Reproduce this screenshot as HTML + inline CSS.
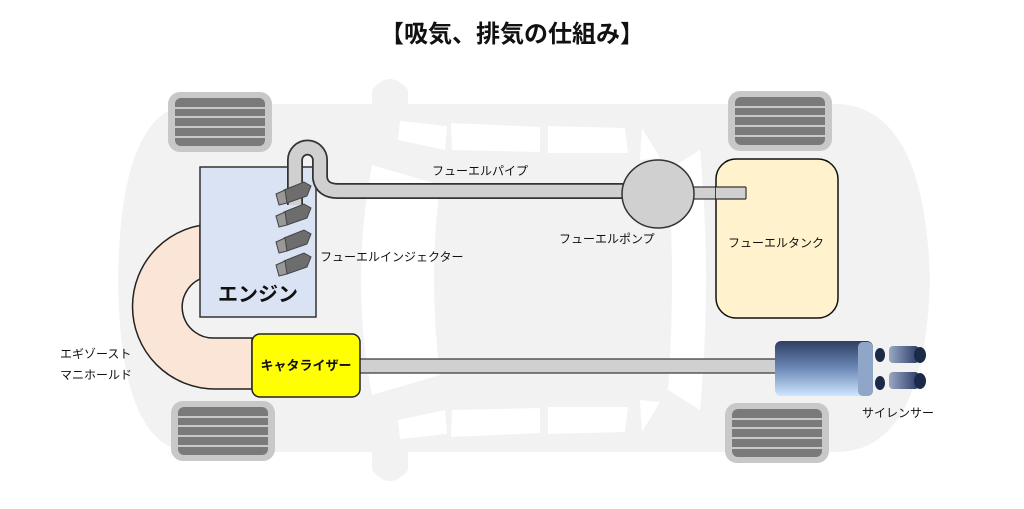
<!DOCTYPE html>
<html><head><meta charset="utf-8"><style>
html,body{margin:0;padding:0;background:#fff;width:1024px;height:509px;overflow:hidden}
svg text{font-family:"Liberation Sans","Noto Sans CJK JP",sans-serif}
</style></head><body>
<svg width="1024" height="509" viewBox="0 0 1024 509" xmlns="http://www.w3.org/2000/svg">
<defs>
<linearGradient id="mf" x1="0" y1="0" x2="0" y2="1"><stop offset="0" stop-color="#2e3f63"/><stop offset="0.5" stop-color="#6c8ab8"/><stop offset="1" stop-color="#cfe6ff"/></linearGradient>
<linearGradient id="tip" x1="0" y1="0" x2="1" y2="0"><stop offset="0" stop-color="#9aa8c4"/><stop offset="1" stop-color="#2a3a66"/></linearGradient>
</defs>
<text x="512" y="42" text-anchor="middle" font-size="24" font-weight="bold" fill="#111">【吸気、排気の仕組み】</text>
<!-- car body -->
<path d="M190 104 L840 104 Q925 110 930 280 Q925 448 840 452 L190 452 Q120 448 118 280 Q120 110 190 104 Z" fill="#f2f2f2"/>
<path d="M372 90 Q390 68 408 90 L408 470 Q390 492 372 470 Z" fill="#f2f2f2"/>
<path d="M372 165 L440 185 Q428 280 440 375 L372 395 Q350 280 372 165 Z" fill="#fff"/>
<path d="M668 170 L700 150 Q712 280 700 410 L668 390 Q676 280 668 170 Z" fill="#fff"/>
<path d="M400 121 L447 126 L445 150 L398 140 Z" fill="#fff"/>
<path d="M451 123 L540 127 L540 152 L452 150 Z" fill="#fff"/>
<path d="M548 126 L625 128 L628 153 L548 153 Z" fill="#fff"/>
<path d="M642 128 L660 158 L640 160 Z" fill="#fff"/>
<path d="M398 420 L445 410 L447 434 L400 439 Z" fill="#fff"/>
<path d="M452 410 L540 408 L540 433 L451 437 Z" fill="#fff"/>
<path d="M548 407 L628 407 L625 432 L548 434 Z" fill="#fff"/>
<path d="M640 400 L660 402 L642 432 Z" fill="#fff"/>
<!-- wheels -->
<g id="w">
<rect x="168" y="92" width="104" height="60" rx="12" fill="#c8c8c8"/>
<rect x="175" y="98" width="90" height="48" rx="6" fill="#7a7a7a"/>
<g stroke="#c8c8c8" stroke-width="2"><line x1="175" y1="108" x2="265" y2="108"/><line x1="175" y1="117" x2="265" y2="117"/><line x1="175" y1="127" x2="265" y2="127"/><line x1="175" y1="137" x2="265" y2="137"/></g>
</g>
<use href="#w" transform="translate(3,309)"/>
<use href="#w" transform="translate(560,-1)"/>
<use href="#w" transform="translate(557,311)"/>
<!-- manifold -->
<path d="M215 224 A82 82 0 0 0 215 389 L252 389 L252 338 L215 338 A31 31 0 0 1 200 279 L200 224 Z" fill="#fbe5d6" stroke="#222" stroke-width="1.5"/>
<!-- engine -->
<rect x="200" y="167" width="116" height="150" fill="#dae3f3" stroke="#333" stroke-width="1.5"/>
<text x="258" y="301" text-anchor="middle" font-size="20" font-weight="bold" fill="#111">エンジン</text>
<!-- fuel pipe -->
<path d="M295 205 L295 160 A12.5 12.5 0 0 1 320 160 L320 178 Q322 191 338 191 L624 191" fill="none" stroke="#333" stroke-width="16"/>
<path d="M295 205 L295 160 A12.5 12.5 0 0 1 320 160 L320 178 Q322 191 338 191 L624 191" fill="none" stroke="#d0d0d0" stroke-width="12.5"/>
<!-- injectors -->
<g fill="#6d6d6d" stroke="#444" stroke-width="1">
<g id="inj"><path d="M284 190 L304 182 L311 186 L307 196 L287 203 Z"/><path d="M276 194 L285 190 L287 203 L279 205 Z" fill="#999"/></g>
<use href="#inj" transform="translate(0,22)"/>
<use href="#inj" transform="translate(0,48)"/>
<use href="#inj" transform="translate(0,71)"/>
</g>
<text x="320" y="261" font-size="12" fill="#111">フューエルインジェクター</text>
<text x="432" y="175" font-size="12" fill="#111">フューエルパイプ</text>
<!-- pump -->
<rect x="690" y="187" width="56" height="12" fill="#d0d0d0" stroke="#333" stroke-width="1.2"/>
<ellipse cx="658" cy="194" rx="36" ry="34" fill="#d0d0d0" stroke="#333" stroke-width="1.5"/>
<text x="559" y="243" font-size="12" fill="#111">フューエルポンプ</text>
<!-- tank -->
<rect x="716" y="159" width="122" height="159" rx="20" fill="#fff2cc" stroke="#111" stroke-width="1.5"/>
<rect x="716" y="187" width="30" height="12" fill="#d0d0d0"/>
<line x1="716" y1="187" x2="746" y2="187" stroke="#333" stroke-width="1.2"/><line x1="716" y1="199" x2="746" y2="199" stroke="#333" stroke-width="1.2"/><line x1="746" y1="187" x2="746" y2="199" stroke="#333" stroke-width="1.2"/>
<text x="728" y="247" font-size="12" fill="#111">フューエルタンク</text>
<!-- exhaust pipe -->
<rect x="355" y="359" width="421" height="14" fill="#d0d0d0" stroke="#333" stroke-width="1.2"/>
<!-- catalyzer -->
<rect x="252" y="334" width="108" height="63" rx="8" fill="#ffff00" stroke="#222" stroke-width="1.5"/>
<text x="306" y="370" text-anchor="middle" font-size="13" font-weight="bold" fill="#111">キャタライザー</text>
<!-- muffler -->
<rect x="775" y="341" width="98" height="55" rx="6" fill="url(#mf)"/>
<rect x="858" y="342" width="15" height="54" rx="5" fill="#8fa6c8"/>
<ellipse cx="880" cy="355" rx="5" ry="7" fill="#1c2a4a"/><ellipse cx="880" cy="383" rx="5" ry="7" fill="#1c2a4a"/>
<rect x="889" y="346" width="30" height="17" rx="4" fill="url(#tip)"/><ellipse cx="920" cy="355" rx="6" ry="8" fill="#1c2a4a"/>
<rect x="889" y="372" width="30" height="17" rx="4" fill="url(#tip)"/><ellipse cx="920" cy="381" rx="6" ry="8" fill="#1c2a4a"/>
<text x="862" y="417" font-size="12" fill="#111">サイレンサー</text>
<text x="60" y="358" font-size="12" fill="#111">エギゾースト</text>
<text x="60" y="379" font-size="12" fill="#111">マニホールド</text>
</svg>
</body></html>
